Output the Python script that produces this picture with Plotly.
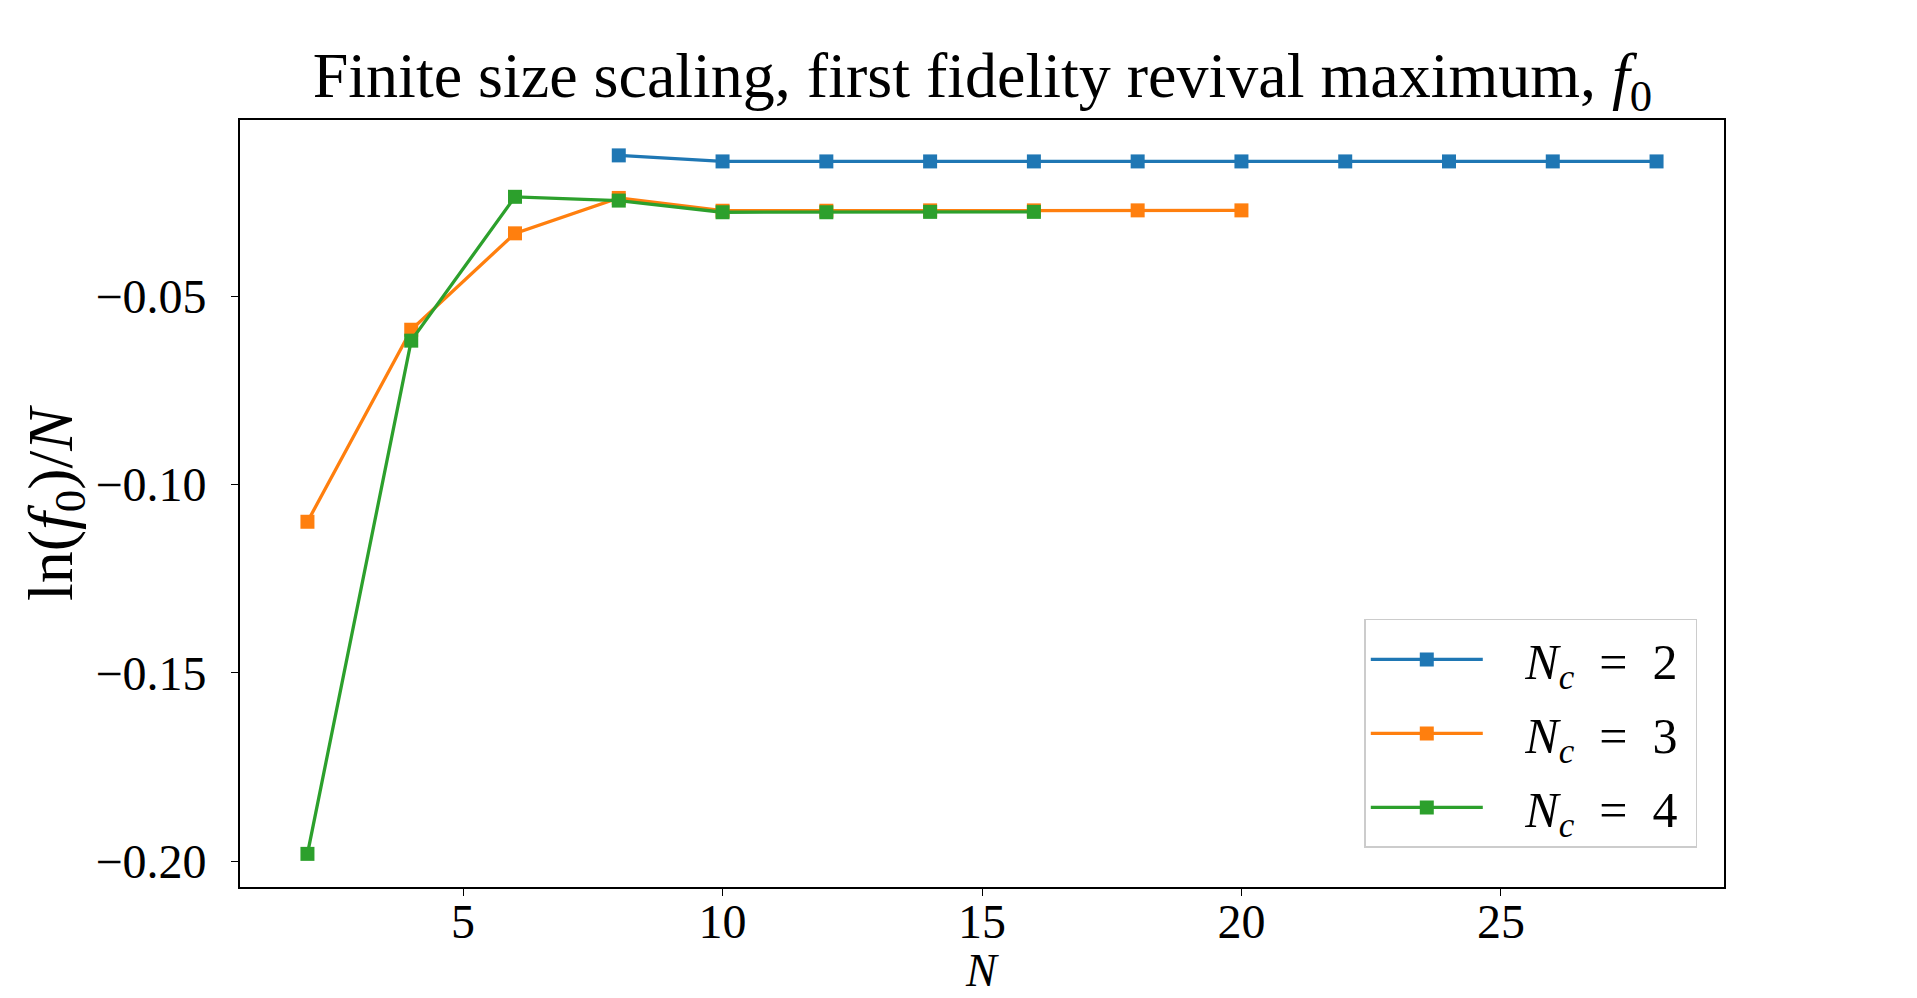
import plotly.graph_objects as go

# Data
N_c2 = [8, 10, 12, 14, 16, 18, 20, 22, 24, 26, 28]
y_c2 = [-0.0126, -0.0142, -0.0142, -0.0142, -0.0142, -0.0142, -0.0142, -0.0142, -0.0142, -0.0142, -0.0142]

N_c3 = [2, 4, 6, 8, 10, 12, 14, 16, 18, 20]
y_c3 = [-0.1099, -0.0589, -0.0333, -0.0239, -0.0273, -0.0273, -0.0272, -0.0272, -0.0272, -0.0272]

N_c4 = [2, 4, 6, 8, 10, 12, 14, 16]
y_c4 = [-0.1981, -0.0618, -0.0236, -0.0246, -0.0277, -0.0277, -0.0276, -0.0276]

labels = ["&nbsp;&nbsp;&nbsp;<i>N<sub>c</sub></i>  =  2&nbsp;",
          "&nbsp;&nbsp;&nbsp;<i>N<sub>c</sub></i>  =  3&nbsp;",
          "&nbsp;&nbsp;&nbsp;<i>N<sub>c</sub></i>  =  4&nbsp;"]
colors = ["#1f77b4", "#ff7f0e", "#2ca02c"]

x_ticks = [5, 10, 15, 20, 25]
y_ticks = [-0.20, -0.15, -0.10, -0.05]

FONT = "Liberation Serif"

fig = go.Figure()
for i, (xs, ys) in enumerate([(N_c2, y_c2), (N_c3, y_c3), (N_c4, y_c4)]):
    fig.add_trace(go.Scatter(
        x=xs, y=ys, mode="lines+markers", name=labels[i],
        legendgroup=f"g{i}",
        line=dict(color=colors[i], width=3.3),
        marker=dict(symbol="square", size=14, color=colors[i]),
    ))

axis_common = dict(
    showgrid=False, zeroline=False, showline=True, linecolor="black",
    linewidth=1.6, mirror=True, ticks="outside", ticklen=7, tickwidth=1.4,
    tickcolor="black", tickfont=dict(family=FONT, size=48, color="black"),
    automargin=False,
)

fig.update_layout(
    width=1917, height=998,
    margin=dict(l=240, r=193, t=120, b=111),
    paper_bgcolor="white", plot_bgcolor="white",
    title=dict(
        text="Finite size scaling, first fidelity revival maximum, <i>f</i><sub>0</sub>",
        font=dict(family=FONT, size=64, color="black"),
        x=0.5125, xanchor="center", y=0.925, yanchor="middle",
        automargin=False,
    ),
    xaxis=dict(
        range=[0.7, 29.3], tickvals=x_ticks, ticklabelstandoff=-15,
        **axis_common,
    ),
    yaxis=dict(
        range=[-0.2069, -0.0032], tickvals=y_ticks, tickformat=".2f",
        ticklabelstandoff=15,
        **axis_common,
    ),
    legend=dict(
        x=0.982, y=0.051, xanchor="right", yanchor="bottom",
        bgcolor="white", bordercolor="#cccccc", borderwidth=1.5,
        font=dict(family=FONT, size=50, color="black"),
        tracegroupgap=6, itemwidth=112,
    ),
    showlegend=True,
    annotations=[
        dict(text="<i>N</i>", xref="paper", yref="paper", x=0.5, y=-0.1440,
             xanchor="center", yanchor="bottom", showarrow=False, borderpad=0,
             font=dict(family=FONT, size=46, color="black")),
        dict(text="ln(<i>f</i><sub>0</sub>)/<i>N</i>", xref="paper", yref="paper",
             x=-0.125, y=0.5, xanchor="center", yanchor="middle", textangle=-90,
             showarrow=False, font=dict(family=FONT, size=64, color="black")),
    ],
)

fig.write_html("out.html")
